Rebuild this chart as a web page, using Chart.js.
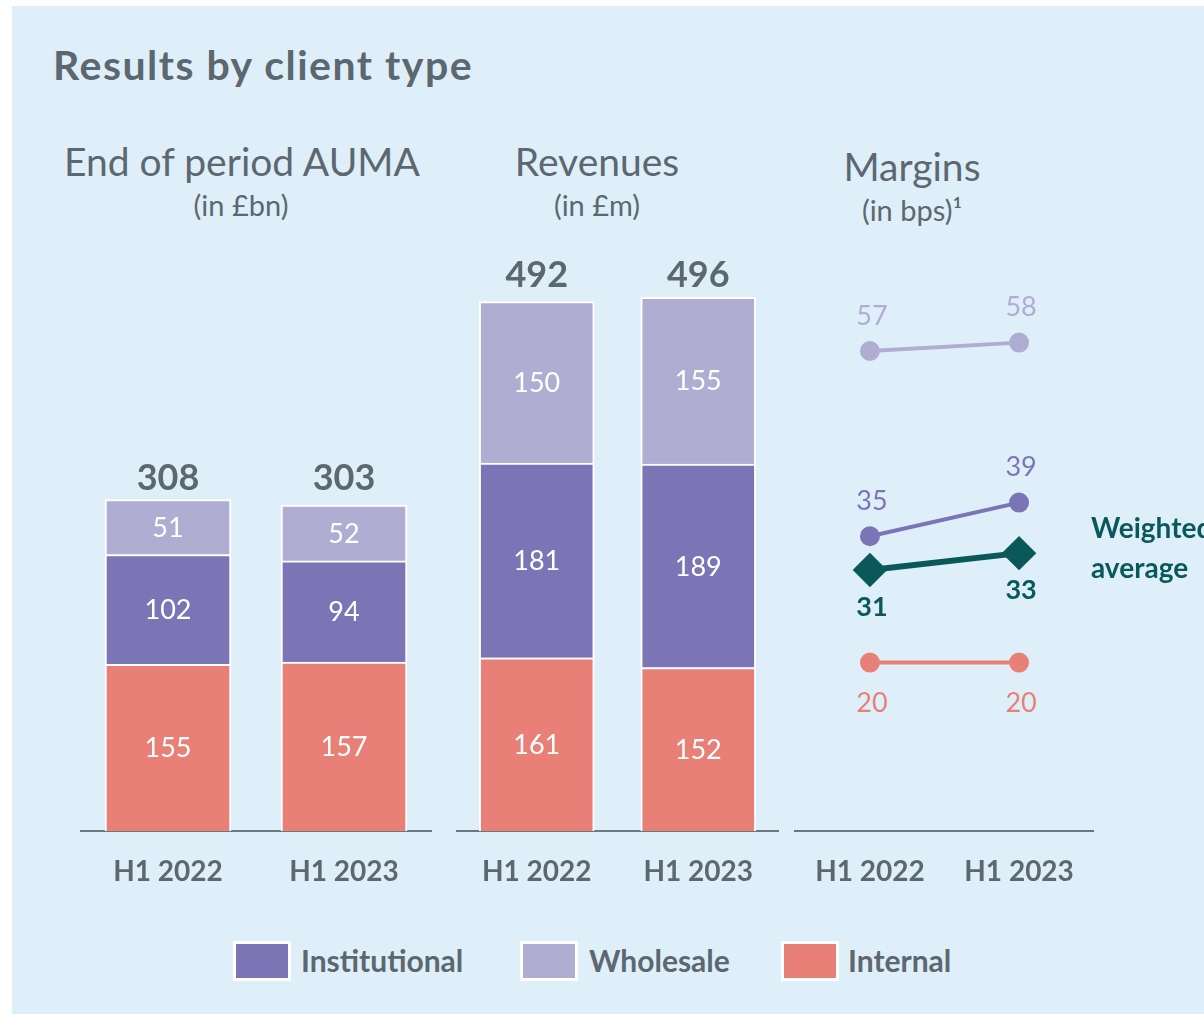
<!DOCTYPE html>
<html>
<head>
<meta charset="utf-8">
<script src="https://cdn.jsdelivr.net/npm/chart.js@4.4.0/dist/chart.umd.min.js"></script>
<style>
  body { margin: 0; width: 1204px; height: 1014px; overflow: hidden; background: #fff; position: relative; font-family: Lato, "Open Sans", sans-serif; }
  #panel { position: absolute; left: 12px; top: 6px; width: 1192px; height: 1008px; background: #dfeff9; }
  .txt { position: absolute; line-height: 1.2; white-space: nowrap; color: #5c6770; }
  canvas { position: absolute; }
  .sw { position: absolute; width: 52px; height: 34px; border: 3px solid #fff; }
</style>
</head>
<body>
<div id="panel"></div>
<canvas id="aumaChart" width="352" height="680" style="left:80px;top:250px"></canvas>
<canvas id="revChart" width="323" height="680" style="left:456px;top:250px"></canvas>
<canvas id="marginChart" width="305" height="680" style="left:792px;top:250px"></canvas>
<div id="texts"></div>

<script>
const periods = ["H1 2022", "H1 2023"];

// AUMA in £bn
const aumaInternal = [155, 157];
const aumaInstitutional = [102, 94];
const aumaWholesale = [51, 52];

// Revenues in £m
const revInternal = [161, 152];
const revInstitutional = [181, 189];
const revWholesale = [150, 155];

// Margins in bps
const marginWholesale = [57, 58];
const marginInstitutional = [35, 39];
const marginWeighted = [31, 33];
const marginInternal = [20, 20];

const C_INTERNAL = "#e88077";
const C_INST = "#7b75b6";
const C_WHOLE = "#b0add3";
const C_TEAL = "#09595b";
const C_GREY = "#5c6770";
const FONT = "Lato, 'Open Sans', sans-serif";

// text placed by baseline
function addText(str, x, baseline, size, weight, color, align, spacing) {
    const d = document.createElement("div");
    d.className = "txt";
    d.textContent = str;
    d.style.fontSize = size + "px";
    d.style.fontWeight = weight;
    if (color) d.style.color = color;
    if (spacing) d.style.letterSpacing = spacing + "px";
    d.style.top = (baseline - 0.987 * size) + "px";
    d.style.left = x + "px";
    if (align === "center") d.style.transform = "translateX(-50%)";
    document.getElementById("texts").appendChild(d);
}

addText("Results by client type", 53, 80, 41, 700, C_GREY, null, 1.5);
addText("End of period AUMA", 242, 176, 39, 400, C_GREY, "center");
addText("(in £bn)", 241, 217, 29, 400, C_GREY, "center");
addText("Revenues", 597, 176, 39, 400, C_GREY, "center");
addText("(in £m)", 597, 217, 29, 400, C_GREY, "center");
addText("Margins", 912, 181, 39, 400, C_GREY, "center");
addText("(in bps)¹", 912, 222, 29, 400, C_GREY, "center");
addText("Weighted", 1091, 539, 28, 700, C_TEAL);
addText("average", 1091, 579, 28, 700, C_TEAL);

// legend
const legendItems = [
    { label: "Institutional", color: C_INST, x: 233, tx: 301 },
    { label: "Wholesale", color: C_WHOLE, x: 520, tx: 589 },
    { label: "Internal", color: C_INTERNAL, x: 781, tx: 848 }
];
legendItems.forEach(item => {
    const s = document.createElement("div");
    s.className = "sw";
    s.style.left = item.x + "px";
    s.style.top = "941px";
    s.style.background = item.color;
    document.body.appendChild(s);
    addText(item.label, item.tx, 972, 30, 700, C_GREY);
});

// draws the numbers on bars and points
const valueLabels = {
    id: "valueLabels",
    afterDatasetsDraw(chart) {
        const ctx = chart.ctx;
        ctx.save();
        ctx.textAlign = "center";
        ctx.textBaseline = "alphabetic";
        const n = chart.data.datasets.length;
        if (chart.config.type === "bar") {
            // totals sit at one height above the tallest stack
            const top = Math.min(...chart.getDatasetMeta(n - 1).data.map(el => el.y));
            chart.data.datasets.forEach((ds, i) => {
                chart.getDatasetMeta(i).data.forEach((el, j) => {
                    ctx.fillStyle = "#fff";
                    ctx.font = "400 27px " + FONT;
                    ctx.fillText(ds.data[j], el.x, (el.y + el.base) / 2 + 0.36 * 27);
                    if (i === n - 1) {
                        let total = 0;
                        chart.data.datasets.forEach(d => total += d.data[j]);
                        ctx.fillStyle = C_GREY;
                        ctx.font = "700 36px " + FONT;
                        ctx.fillText(total, el.x, top - 10);
                    }
                });
            });
        } else {
            chart.data.datasets.forEach((ds, i) => {
                chart.getDatasetMeta(i).data.forEach((el, j) => {
                    ctx.fillStyle = ds.borderColor;
                    ctx.font = (ds.labelBold ? "700 " : "400 ") + "27px " + FONT;
                    ctx.fillText(ds.data[j], el.x + 2, el.y + ds.labelOffset + 0.36 * 27);
                });
            });
        }
        ctx.restore();
    }
};

function xAxis() {
    return {
        offset: true,
        grid: { display: false, drawTicks: false },
        border: { display: true, color: "#6c7780", width: 2 },
        ticks: { color: C_GREY, font: { family: FONT, size: 28, weight: "700" }, padding: 24, maxRotation: 0 },
        afterFit: s => { s.height = 99; }
    };
}

function stackedBar(id, internal, inst, whole, thickness) {
    new Chart(document.getElementById(id), {
        type: "bar",
        data: {
            labels: periods,
            datasets: [
                { label: "Internal", data: internal, backgroundColor: C_INTERNAL },
                { label: "Institutional", data: inst, backgroundColor: C_INST },
                { label: "Wholesale", data: whole, backgroundColor: C_WHOLE }
            ]
        },
        options: {
            responsive: false,
            animation: false,
            layout: { padding: 0, autoPadding: false },
            datasets: { bar: { barThickness: thickness, borderColor: "#fff", borderWidth: 2 } },
            plugins: { legend: { display: false }, tooltip: { enabled: false } },
            scales: {
                x: Object.assign(xAxis(), { stacked: true }),
                y: { stacked: true, display: false, min: 0, max: 540 }
            }
        },
        plugins: [valueLabels]
    });
}

stackedBar("aumaChart", aumaInternal, aumaInstitutional, aumaWholesale, 126);
stackedBar("revChart", revInternal, revInstitutional, revWholesale, 115);

new Chart(document.getElementById("marginChart"), {
    type: "line",
    data: {
        labels: periods,
        datasets: [
            { label: "Wholesale", data: marginWholesale, borderColor: C_WHOLE, backgroundColor: C_WHOLE,
              borderWidth: 4, pointRadius: 8, labelOffset: -36 },
            { label: "Institutional", data: marginInstitutional, borderColor: C_INST, backgroundColor: C_INST,
              borderWidth: 4, pointRadius: 8, labelOffset: -36 },
            { label: "Internal", data: marginInternal, borderColor: C_INTERNAL, backgroundColor: C_INTERNAL,
              borderWidth: 4, pointRadius: 8, labelOffset: 40 },
            { label: "Weighted average", data: marginWeighted, borderColor: C_TEAL, backgroundColor: C_TEAL,
              borderWidth: 6, pointRadius: 13, pointStyle: "rectRot", labelOffset: 36, labelBold: true }
        ]
    },
    options: {
        responsive: false,
        animation: false,
        layout: { padding: 0, autoPadding: false },
        elements: { point: { borderWidth: 0 } },
        plugins: { legend: { display: false }, tooltip: { enabled: false } },
        scales: {
            x: xAxis(),
            y: { display: false, min: 0, max: 69 }
        }
    },
    plugins: [valueLabels]
});
</script>
</body>
</html>
